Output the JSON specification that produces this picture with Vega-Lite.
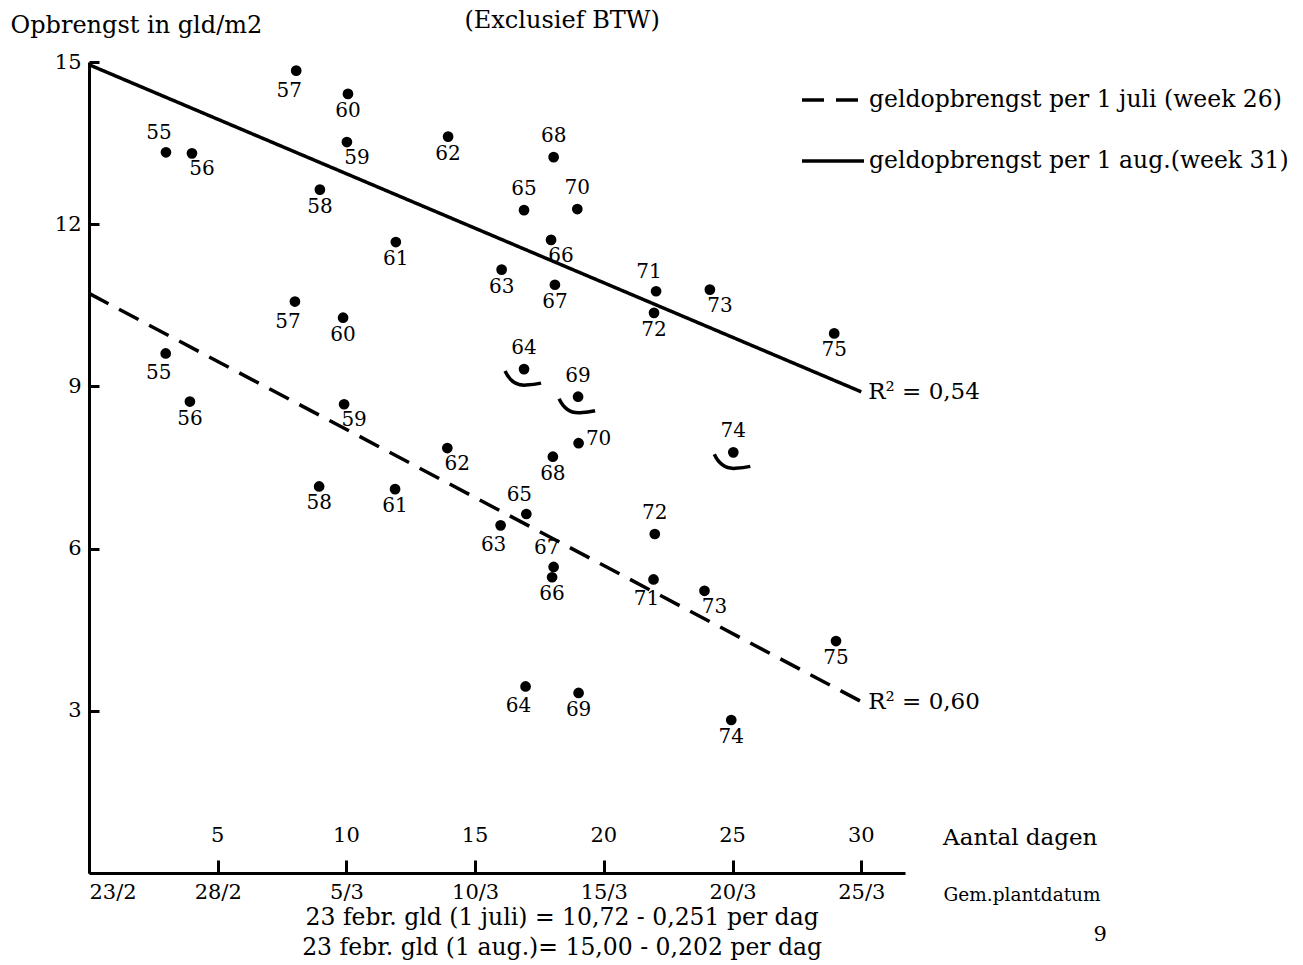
{
  "$schema": "https://vega.github.io/schema/vega-lite/v6.json",
  "width": 816,
  "height": 811,
  "autosize": "none",
  "padding": {"left": 89, "top": 62, "right": 398, "bottom": 92},
  "background": "white",
  "config": {
    "view": {"stroke": null},
    "font": "DejaVu Serif",
    "text": {"font": "DejaVu Serif", "fontSize": 20, "color": "black"},
    "axis": {
      "grid": false,
      "domainColor": "black",
      "domainWidth": 3,
      "tickColor": "black",
      "tickWidth": 3,
      "labelColor": "black",
      "labelFont": "DejaVu Serif",
      "labelFontSize": 21,
      "titleColor": "black",
      "titleFont": "DejaVu Serif",
      "titleFontWeight": "normal",
      "titleFontSize": 18.5
    },
    "legend": {
      "labelFont": "DejaVu Serif",
      "labelFontSize": 23.5,
      "labelColor": "black",
      "labelLimit": 600
    }
  },
  "datasets": {
    "punten": [
      {"reeks": "aug", "nr": 55, "dag": 2.99, "gld": 13.33},
      {"reeks": "aug", "nr": 56, "dag": 4.0, "gld": 13.31},
      {"reeks": "aug", "nr": 57, "dag": 8.05, "gld": 14.84},
      {"reeks": "aug", "nr": 58, "dag": 8.97, "gld": 12.64},
      {"reeks": "aug", "nr": 59, "dag": 10.02, "gld": 13.52},
      {"reeks": "aug", "nr": 60, "dag": 10.06, "gld": 14.41},
      {"reeks": "aug", "nr": 61, "dag": 11.92, "gld": 11.67},
      {"reeks": "aug", "nr": 62, "dag": 13.95, "gld": 13.62},
      {"reeks": "aug", "nr": 63, "dag": 16.03, "gld": 11.16},
      {"reeks": "aug", "nr": 64, "dag": 16.9, "gld": 9.32},
      {"reeks": "aug", "nr": 65, "dag": 16.9, "gld": 12.26},
      {"reeks": "aug", "nr": 66, "dag": 17.95, "gld": 11.71},
      {"reeks": "aug", "nr": 67, "dag": 18.1, "gld": 10.88},
      {"reeks": "aug", "nr": 68, "dag": 18.05, "gld": 13.24},
      {"reeks": "aug", "nr": 69, "dag": 19.0, "gld": 8.81},
      {"reeks": "aug", "nr": 70, "dag": 18.97, "gld": 12.28},
      {"reeks": "aug", "nr": 71, "dag": 22.03, "gld": 10.76},
      {"reeks": "aug", "nr": 72, "dag": 21.95, "gld": 10.36},
      {"reeks": "aug", "nr": 73, "dag": 24.12, "gld": 10.79},
      {"reeks": "aug", "nr": 74, "dag": 25.03, "gld": 7.78},
      {"reeks": "aug", "nr": 75, "dag": 28.95, "gld": 9.98},
      {"reeks": "juli", "nr": 55, "dag": 2.98, "gld": 9.61},
      {"reeks": "juli", "nr": 56, "dag": 3.92, "gld": 8.72},
      {"reeks": "juli", "nr": 57, "dag": 8.0, "gld": 10.57},
      {"reeks": "juli", "nr": 58, "dag": 8.94, "gld": 7.15},
      {"reeks": "juli", "nr": 59, "dag": 9.91, "gld": 8.67},
      {"reeks": "juli", "nr": 60, "dag": 9.87, "gld": 10.27},
      {"reeks": "juli", "nr": 61, "dag": 11.89, "gld": 7.1},
      {"reeks": "juli", "nr": 62, "dag": 13.92, "gld": 7.86},
      {"reeks": "juli", "nr": 63, "dag": 15.99, "gld": 6.43},
      {"reeks": "juli", "nr": 64, "dag": 16.96, "gld": 3.45},
      {"reeks": "juli", "nr": 65, "dag": 16.99, "gld": 6.64},
      {"reeks": "juli", "nr": 66, "dag": 17.99, "gld": 5.47},
      {"reeks": "juli", "nr": 67, "dag": 18.05, "gld": 5.66},
      {"reeks": "juli", "nr": 68, "dag": 18.02, "gld": 7.7},
      {"reeks": "juli", "nr": 69, "dag": 19.02, "gld": 3.33},
      {"reeks": "juli", "nr": 70, "dag": 19.02, "gld": 7.95},
      {"reeks": "juli", "nr": 71, "dag": 21.93, "gld": 5.43},
      {"reeks": "juli", "nr": 72, "dag": 21.98, "gld": 6.27},
      {"reeks": "juli", "nr": 73, "dag": 23.91, "gld": 5.22},
      {"reeks": "juli", "nr": 74, "dag": 24.95, "gld": 2.83},
      {"reeks": "juli", "nr": 75, "dag": 29.02, "gld": 4.29}
    ],
    "lijnen": [
      {"lijn": "geldopbrengst per 1 juli (week 26)", "dag": 0, "gld": 10.72},
      {"lijn": "geldopbrengst per 1 juli (week 26)", "dag": 30, "gld": 3.17, "r2": "R² = 0,60"},
      {"lijn": "geldopbrengst per 1 aug.(week 31)", "dag": 0, "gld": 14.95},
      {"lijn": "geldopbrengst per 1 aug.(week 31)", "dag": 30, "gld": 8.9, "r2": "R² = 0,54"}
    ],
    "dagen": [
      {"dag": 5}, {"dag": 10}, {"dag": 15}, {"dag": 20}, {"dag": 25}, {"dag": 30}
    ]
  },
  "layer": [
    {
      "data": {"name": "lijnen"},
      "mark": {"type": "line", "color": "black", "strokeWidth": 3.5, "clip": false},
      "encoding": {
        "x": {
          "field": "dag", "type": "quantitative",
          "scale": {"domain": [0, 31.7], "nice": false, "zero": false},
          "axis": {
            "title": "Gem.plantdatum",
            "titleAnchor": "start",
            "titleAlign": "left",
            "titleBaseline": "alphabetic",
            "titleX": 854,
            "titleY": 27,
            "values": [0, 5, 10, 15, 20, 25, 30],
            "labelExpr": "['23/2','28/2','5/3','10/3','15/3','20/3','25/3'][round(datum.value/5)]",
            "tickSize": -13,
            "labelPadding": 21,
            "labelFlush": true,
            "labelBaseline": "top"
          }
        },
        "y": {
          "field": "gld", "type": "quantitative",
          "scale": {"domain": [0, 15], "nice": false},
          "axis": {
            "title": "Opbrengst in gld/m2",
            "titleFontSize": 24,
            "titleAngle": 0,
            "titleAlign": "left",
            "titleBaseline": "alphabetic",
            "titleX": -79,
            "titleY": -30,
            "values": [3, 6, 9, 12, 15],
            "tickSize": -10,
            "labelPadding": 18
          }
        },
        "strokeDash": {
          "field": "lijn", "type": "nominal",
          "scale": {
            "domain": ["geldopbrengst per 1 juli (week 26)", "geldopbrengst per 1 aug.(week 31)"],
            "range": [[22, 12], [1, 0]]
          },
          "legend": {
            "title": null,
            "orient": "none",
            "legendX": 711,
            "legendY": 5,
            "padding": 0,
            "symbolType": "stroke",
            "symbolSize": 3844,
            "symbolStrokeWidth": 3.5,
            "symbolStrokeColor": "black",
            "labelOffset": 3,
            "rowPadding": 16,
            "encode": {
              "symbols": {
                "update": {
                  "strokeDash": {"signal": "datum.value === 'geldopbrengst per 1 juli (week 26)' ? [16, 6] : [1, 0]"}
                }
              }
            }
          }
        }
      }
    },
    {
      "data": {"name": "lijnen"},
      "transform": [{"filter": "isValid(datum.r2)"}],
      "mark": {"type": "text", "align": "left", "baseline": "middle", "dx": 7, "dy": 0, "fontSize": 23},
      "encoding": {
        "x": {"field": "dag", "type": "quantitative"},
        "y": {"field": "gld", "type": "quantitative"},
        "text": {"field": "r2"}
      }
    },
    {
      "data": {"name": "punten"},
      "mark": {"type": "point", "shape": "circle", "filled": true, "color": "black", "size": 115, "opacity": 1},
      "encoding": {
        "x": {"field": "dag", "type": "quantitative"},
        "y": {"field": "gld", "type": "quantitative"}
      }
    },
    {
      "data": {"name": "punten"},
      "transform": [{"filter": "datum.reeks === 'aug' && (datum.nr === 64 || datum.nr === 69 || datum.nr === 74)"}],
      "mark": {
        "type": "point",
        "shape": "M -0.95 0.1 Q -0.6 0.85 0.1 0.8 Q 0.5 0.78 0.85 0.7",
        "filled": false,
        "color": "black",
        "strokeWidth": 3.5,
        "size": 1600,
        "opacity": 1
      },
      "encoding": {
        "x": {"field": "dag", "type": "quantitative"},
        "y": {"field": "gld", "type": "quantitative"}
      }
    },
    {
      "data": {"name": "punten"},
      "transform": [{"filter": "indexof(['aug68','aug65','aug70','aug64','aug69','aug74','juli72','aug55','aug71','juli65','juli67','aug56','aug59','aug73','aug66','juli59','juli62','juli73','aug57','juli57','juli55','juli63','juli64','juli71','juli70'], datum.reeks + datum.nr) < 0"}],
      "mark": {"type": "text", "baseline": "middle", "dy": 17},
      "encoding": {
        "x": {"field": "dag", "type": "quantitative"},
        "y": {"field": "gld", "type": "quantitative"},
        "text": {"field": "nr"}
      }
    },
    {
      "data": {"name": "punten"},
      "transform": [{"filter": "indexof(['aug68','aug65','aug70','aug64','aug69','aug74','juli72'], datum.reeks + datum.nr) >= 0"}],
      "mark": {"type": "text", "baseline": "middle", "dy": -21},
      "encoding": {
        "x": {"field": "dag", "type": "quantitative"},
        "y": {"field": "gld", "type": "quantitative"},
        "text": {"field": "nr"}
      }
    },
    {
      "data": {"name": "punten"},
      "transform": [{"filter": "indexof(['aug55','aug71','juli65','juli67'], datum.reeks + datum.nr) >= 0"}],
      "mark": {"type": "text", "baseline": "middle", "dx": -7, "dy": -19},
      "encoding": {
        "x": {"field": "dag", "type": "quantitative"},
        "y": {"field": "gld", "type": "quantitative"},
        "text": {"field": "nr"}
      }
    },
    {
      "data": {"name": "punten"},
      "transform": [{"filter": "indexof(['aug56','aug59','aug73','aug66','juli59','juli62','juli73'], datum.reeks + datum.nr) >= 0"}],
      "mark": {"type": "text", "baseline": "middle", "dx": 10, "dy": 16},
      "encoding": {
        "x": {"field": "dag", "type": "quantitative"},
        "y": {"field": "gld", "type": "quantitative"},
        "text": {"field": "nr"}
      }
    },
    {
      "data": {"name": "punten"},
      "transform": [{"filter": "indexof(['aug57','juli57','juli55','juli63','juli64','juli71'], datum.reeks + datum.nr) >= 0"}],
      "mark": {"type": "text", "baseline": "middle", "dx": -7, "dy": 20},
      "encoding": {
        "x": {"field": "dag", "type": "quantitative"},
        "y": {"field": "gld", "type": "quantitative"},
        "text": {"field": "nr"}
      }
    },
    {
      "data": {"name": "punten"},
      "transform": [{"filter": "datum.reeks === 'juli' && datum.nr === 70"}],
      "mark": {"type": "text", "baseline": "middle", "dx": 20, "dy": -4},
      "encoding": {
        "x": {"field": "dag", "type": "quantitative"},
        "y": {"field": "gld", "type": "quantitative"},
        "text": {"field": "nr"}
      }
    },
    {
      "data": {"name": "dagen"},
      "mark": {"type": "text", "baseline": "middle", "fontSize": 21},
      "encoding": {
        "x": {"field": "dag", "type": "quantitative"},
        "y": {"datum": 0.68},
        "text": {"field": "dag"}
      }
    },
    {
      "data": {"values": [{}]},
      "mark": {"type": "text", "align": "left", "baseline": "middle", "fontSize": 23},
      "encoding": {"x": {"datum": 33.18}, "y": {"datum": 0.65}, "text": {"value": "Aantal dagen"}}
    },
    {
      "data": {"values": [{}]},
      "mark": {"type": "text", "align": "center", "baseline": "middle", "fontSize": 24},
      "encoding": {"x": {"datum": 18.38}, "y": {"datum": 15.76}, "text": {"value": "(Exclusief BTW)"}}
    },
    {
      "data": {"values": [{}]},
      "mark": {"type": "text", "align": "center", "baseline": "middle", "fontSize": 23.5},
      "encoding": {"x": {"datum": 18.38}, "y": {"datum": -0.83}, "text": {"value": "23 febr. gld (1 juli) = 10,72 - 0,251 per dag"}}
    },
    {
      "data": {"values": [{}]},
      "mark": {"type": "text", "align": "center", "baseline": "middle", "fontSize": 23.5},
      "encoding": {"x": {"datum": 18.38}, "y": {"datum": -1.38}, "text": {"value": "23 febr. gld (1 aug.)= 15,00 - 0,202 per dag"}}
    },
    {
      "data": {"values": [{}]},
      "mark": {"type": "text", "align": "center", "baseline": "middle", "fontSize": 21},
      "encoding": {"x": {"datum": 39.28}, "y": {"datum": -1.15}, "text": {"value": "9"}}
    }
  ]
}
